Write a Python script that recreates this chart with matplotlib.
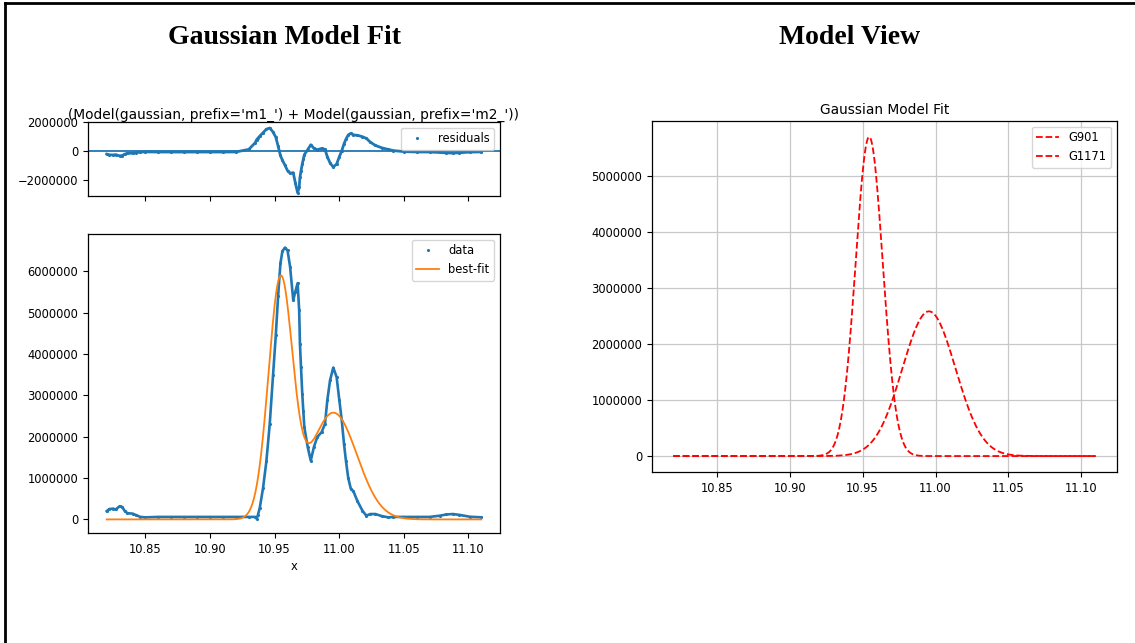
import numpy as np
import matplotlib
matplotlib.use('Agg')
from matplotlib import pyplot as plt
from matplotlib.lines import Line2D

# measured trace (x, intensity)
x_data = [10.820, 10.822, 10.825, 10.827, 10.830, 10.832, 10.834, 10.836, 10.840, 10.843,
          10.846, 10.850, 10.860, 10.870, 10.880, 10.890, 10.900, 10.910, 10.920, 10.930,
          10.935, 10.936, 10.937, 10.9385, 10.941, 10.9436, 10.9462, 10.9488, 10.9509, 10.9527,
          10.9545, 10.956, 10.958, 10.960, 10.962, 10.9644, 10.966, 10.9678, 10.969,
          10.9696, 10.9704, 10.9714, 10.9722, 10.973, 10.9756, 10.978, 10.9804, 10.983, 10.9864,
          10.989, 10.9908, 10.9929, 10.9954, 10.998, 11.0001, 11.002, 11.0037, 11.0052, 11.007,
          11.009, 11.011, 11.014, 11.018, 11.021, 11.024, 11.028, 11.033, 11.038, 11.042,
          11.050, 11.060, 11.070, 11.078, 11.083, 11.088, 11.093, 11.101, 11.110]
y_data = [0.20e6, 0.25e6, 0.26e6, 0.24e6, 0.32e6, 0.30e6, 0.20e6, 0.15e6, 0.14e6, 0.10e6,
          0.06e6, 0.05e6, 0.06e6, 0.06e6, 0.06e6, 0.06e6, 0.06e6, 0.06e6, 0.06e6, 0.06e6,
          0.06e6, 0.02e6, 0.10e6, 0.28e6, 0.75e6, 1.40e6, 2.30e6, 3.50e6, 4.45e6, 5.40e6,
          6.19e6, 6.48e6, 6.57e6, 6.50e6, 6.10e6, 5.30e6, 5.50e6, 5.71e6, 5.06e6,
          4.25e6, 3.69e6, 3.04e6, 2.63e6, 2.23e6, 1.75e6, 1.42e6, 1.75e6, 1.99e6, 2.11e6,
          2.31e6, 2.88e6, 3.36e6, 3.67e6, 3.44e6, 2.88e6, 2.39e6, 1.83e6, 1.42e6, 1.00e6,
          0.74e6, 0.68e6, 0.45e6, 0.21e6, 0.09e6, 0.13e6, 0.13e6, 0.08e6, 0.05e6, 0.06e6,
          0.06e6, 0.06e6, 0.06e6, 0.09e6, 0.12e6, 0.13e6, 0.11e6, 0.065e6, 0.05e6]

# fitted gaussian components
comp_names = ['G901', 'G1171']
comp_height = [5.69e6, 2.58e6]
comp_center = [10.9545, 10.9955]
comp_sigma = [0.0093, 0.0182]

x_data = np.array(x_data)
y_data = np.array(y_data)


def gaussian(x, height, center, sigma):
    return height * np.exp(-(x - center) ** 2 / (2 * sigma ** 2))


def model(x):
    return sum(gaussian(x, h, c, s) for h, c, s in zip(comp_height, comp_center, comp_sigma))


x_fine = np.linspace(x_data.min(), x_data.max(), 800)
residual = model(x_data) - y_data

fs = 8.3
plt.rcParams['font.size'] = fs
plt.rcParams['axes.linewidth'] = 0.9

fig = plt.figure(figsize=(11.35, 6.43), dpi=100)
W, H = 1135.0, 643.0


def box(l, t, r, b):
    return [l / W, 1 - b / H, (r - l) / W, (b - t) / H]


# residuals
ax_res = fig.add_axes(box(88, 122, 500, 196))
ax_res.axhline(0, color='C0', lw=1.3)
ax_res.plot(x_data, residual, '-', color='C0', lw=2.0)
ax_res.plot(x_data, residual, '.', color='C0', ms=2.5, label='residuals')
ax_res.set_yticks([-2000000, 0, 2000000])
ax_res.ticklabel_format(style='plain', axis='y', useOffset=False)
ax_res.tick_params(labelbottom=False)
ax_res.set_title("(Model(gaussian, prefix='m1_') + Model(gaussian, prefix='m2_'))",
                 fontsize=9.95, pad=2)
ax_res.legend(loc='upper right', fontsize=fs)

# data and best fit
ax = fig.add_axes(box(88, 234, 500, 533), sharex=ax_res)
ax.plot(x_data, y_data, '-', color='C0', lw=1.9)
ax.plot(x_data, y_data, '.', color='C0', ms=2.5, label='data')
ax.plot(x_fine, model(x_fine), color='C1', lw=1.3, label='best-fit')
ax.ticklabel_format(style='plain', axis='y', useOffset=False)
ax.set_xticks([10.85, 10.90, 10.95, 11.00, 11.05, 11.10])
ax.set_xlabel('x', labelpad=3)
ax.legend(loc='upper right', fontsize=fs)

# individual components
ax2 = fig.add_axes(box(652, 121, 1117, 472))
for name, h, c, s in zip(comp_names, comp_height, comp_center, comp_sigma):
    ax2.plot(x_fine, gaussian(x_fine, h, c, s), 'r--', lw=1.3, label=name)
ax2.ticklabel_format(style='plain', axis='y', useOffset=False)
ax2.set_xticks([10.85, 10.90, 10.95, 11.00, 11.05, 11.10])
ax2.grid(True, color='#c8c8c8', lw=0.9)
ax2.set_title('Gaussian Model Fit', fontsize=9.95, pad=5)
ax2.legend(loc='upper right', fontsize=fs)

fig.text(284 / W, 1 - 38 / H, 'Gaussian Model Fit', ha='center', va='center',
         family='Liberation Serif', weight='bold', fontsize=20)
fig.text(850 / W, 1 - 38 / H, 'Model View', ha='center', va='center',
         family='Liberation Serif', weight='bold', fontsize=20)

# page frame along the top and left
fig.add_artist(Line2D([5 / W, 5 / W], [0, 1 - 3 / H], transform=fig.transFigure, color='black', lw=2))
fig.add_artist(Line2D([5 / W, 1], [1 - 3 / H, 1 - 3 / H], transform=fig.transFigure, color='black', lw=2))

fig.savefig('out.png', dpi=100)
